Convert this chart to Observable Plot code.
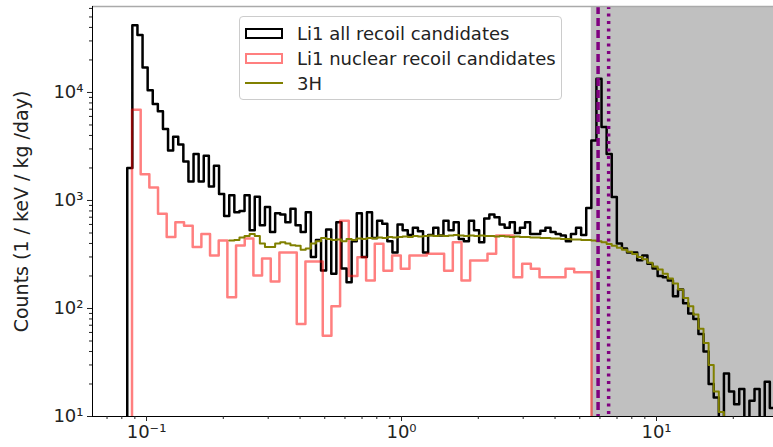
<!DOCTYPE html>
<html><head><meta charset="utf-8">
<script src="https://cdn.jsdelivr.net/npm/d3@7"></script>
<script src="https://cdn.jsdelivr.net/npm/@observablehq/plot@0.6"></script>
<style>
body{margin:0;background:#fff;font-family:"DejaVu Sans",sans-serif;}
#wrap{position:relative;width:773px;height:447px;overflow:hidden;}
#legend{position:absolute;left:239px;top:16px;width:321px;height:82px;border:1px solid #ccc;border-radius:4px;background:rgba(255,255,255,0.8);font-size:18px;color:#222;}
.row{position:absolute;left:5px;height:24px;display:flex;align-items:center;white-space:nowrap;}
.patch{width:38px;height:11px;margin-right:14px;box-sizing:border-box;background:#fff;}
.lineSym{width:38px;height:0;border-top:2.5px solid olive;margin-right:14px;}
</style></head>
<body><div id="wrap"></div>
<script>
// ---- data ----
// histogram binning (log-uniform bins), energies in keV
const blackFirstEdge = 0.08402, blackBinsPerDecade = 50;
const redFirstEdge = 0.08771, redBinsPerDecade = 29.41;
const tritiumFirstBin = 20; // 3H curve starts at this bin of the black grid

// Li1 all recoil candidates (counts / keV / kg / day)
const allRecoil = [2000,42000,34000,17000,10500,7800,6700,4600,2900,3900,
 3300,2300,1500,2700,1500,2600,1350,2100,1150,720,
 1120,780,800,1120,530,1080,590,870,510,760,
 740,630,840,590,510,780,300,430,225,540,
 210,630,235,175,420,760,300,780,450,650,
 610,420,330,600,530,480,560,520,330,480,
 560,475,650,530,630,440,420,650,530,410,
 680,740,700,600,560,630,500,560,630,490,
 490,525,560,510,490,475,420,490,560,480,
 850,3600,13400,4800,2700,1075,400,360,330,330,
 280,310,260,235,200,195,182,130,150,112,
 90,80,58,40,20,15,0,25,17,13,
 18,0,14,18,0,21,12];

// Li1 nuclear recoil candidates
const nuclearRecoil = [6900,1750,1320,754,460,630,585,370,490,310,
 425,127,383,445,202,290,178,330,330,72,
 272,272,56,105,650,200,298,182,397,224,
 309,233,309,309,321,321,224,411,182,278,
 278,321,475,475,195,259,233,195,195,195,
 233,217,217];

// 3H spectrum
const tritium = [425,430,455,470,490,470,400,370,370,400,
 410,400,385,380,350,360,400,420,450,440,
 430,435,420,440,430,445,440,450,445,455,
 450,460,455,460,465,460,470,465,470,475,
 470,475,470,475,480,475,470,475,470,475,
 470,470,465,470,465,460,465,460,460,455,
 455,450,450,445,445,440,440,435,435,430,
 430,425,420,410,395,380,365,350,335,320,
 300,285,265,245,230,210,190,170,150,125,
 105,88,65,48,30,17,11,7];

const grayBand = [5.55, 40];          // shaded region (keV)
const mnKalpha = 5.9, mnKbeta = 6.49;   // purple reference lines (keV)

const xDomain = [0.06139, 28.76];
const yDomain = [10, 62500];
const xMajor = [0.1, 1, 10];
const xMajorLabels = ["10\u207B\u00B9", "10\u2070", "10\u00B9"];
const xMinor = [0.07,0.08,0.09,0.2,0.3,0.4,0.5,0.6,0.7,0.8,0.9,2,3,4,5,6,7,8,9,20];
const yMajor = [10, 100, 1000, 10000];
const yMajorLabels = ["10\u00B9", "10\u00B2", "10\u00B3", "10\u2074"];
const yMinor = [20,30,40,50,60,70,80,90,200,300,400,500,600,700,800,900,
 2000,3000,4000,5000,6000,7000,8000,9000,20000,30000,40000,50000,60000];
const yLabel = "Counts (1 / keV / kg /day)";
const legendLabels = ["Li1 all recoil candidates", "Li1 nuclear recoil candidates", "3H"];

// ---- build step outlines ----
const floorVal = 1; // zero counts drawn below the axis (clipped)
const edge = (first, perDec, i) => first * Math.pow(10, i / perDec);
function steps(first, perDec, offset, values, closeStart, closeEnd) {
  const pts = [];
  const n = values.length;
  const v = d => (d > 0 ? d : floorVal);
  if (closeStart) pts.push({x: edge(first, perDec, offset), y: floorVal});
  for (let i = 0; i < n; i++) pts.push({x: edge(first, perDec, offset + i), y: v(values[i])});
  pts.push({x: edge(first, perDec, offset + n), y: v(values[n - 1])});
  if (closeEnd) pts.push({x: edge(first, perDec, offset + n), y: floorVal});
  return pts;
}
const blackPts = steps(blackFirstEdge, blackBinsPerDecade, 0, allRecoil, true, false);
const redPts = steps(redFirstEdge, redBinsPerDecade, 0, nuclearRecoil, true, true);
const olivePts = steps(blackFirstEdge, blackBinsPerDecade, tritiumFirstBin, tritium, false, false);

const xLab = new Map(xMajor.map((d, i) => [d, xMajorLabels[i]]));
const yLab = new Map(yMajor.map((d, i) => [d, yMajorLabels[i]]));

const chart = Plot.plot({
  width: 773, height: 447,
  marginLeft: 92, marginRight: 0, marginTop: 6, marginBottom: 31,
  x: {type: "log", domain: xDomain, label: null},
  y: {type: "log", domain: yDomain, label: null},
  style: {fontFamily: "DejaVu Sans", fontSize: "18px", color: "#222", background: "white"},
  marks: [
    Plot.rect([grayBand], {x1: d => d[0], x2: d => d[1], fill: "#c0c0c0", clip: true}),
    Plot.line(blackPts, {x: "x", y: "y", curve: "step-after", stroke: "black", strokeWidth: 2.5, clip: true}),
    Plot.line(redPts, {x: "x", y: "y", curve: "step-after", stroke: "red", strokeOpacity: 0.5, strokeWidth: 2.5, clip: true}),
    Plot.line(olivePts, {x: "x", y: "y", curve: "step-after", stroke: "olive", strokeWidth: 2, clip: true}),
    Plot.ruleX([mnKalpha], {stroke: "purple", strokeWidth: 3.5, strokeDasharray: "8,4"}),
    Plot.ruleX([mnKbeta], {stroke: "purple", strokeWidth: 3.5, strokeDasharray: "3,4.5"}),
    Plot.ruleY([yDomain[1]], {stroke: "#aaa", strokeWidth: 1.5}),
    Plot.ruleY([yDomain[0]], {stroke: "black", strokeWidth: 1}),
    Plot.ruleX([xDomain[0]], {stroke: "black", strokeWidth: 1}),
    Plot.axisX(xMajor, {tickSize: 5, tickPadding: 4, tickFormat: d => xLab.get(d), label: null}),
    Plot.axisX(xMinor, {tickSize: 3, tickFormat: () => "", label: null}),
    Plot.axisY(yMajor, {tickSize: 5, tickPadding: 4, tickFormat: d => yLab.get(d),
      label: yLabel, labelAnchor: "center", labelOffset: 78, labelArrow: "none"}),
    Plot.axisY(yMinor, {tickSize: 3, tickFormat: () => "", label: null})
  ]
});
d3.select(chart).selectAll('g[aria-label="y-axis label"] text').attr("font-size", 19);
const wrap = document.getElementById("wrap");
wrap.appendChild(chart);

// legend
const legend = document.createElement("div");
legend.id = "legend";
const symbols = [
  '<div class="patch" style="border:2.5px solid black"></div>',
  '<div class="patch" style="border:2.5px solid rgba(255,0,0,0.5)"></div>',
  '<div class="lineSym"></div>'
];
legend.innerHTML = legendLabels.map((t, i) =>
  `<div class="row" style="top:${4 + i * 25}px">${symbols[i]}<span>${t}</span></div>`).join("");
wrap.appendChild(legend);
</script>
</body></html>
